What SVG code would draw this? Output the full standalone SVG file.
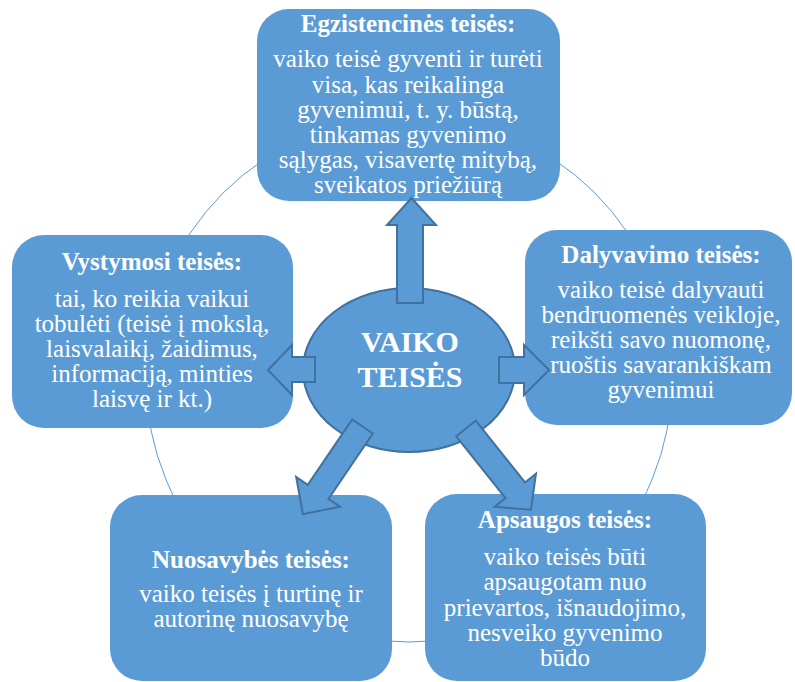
<svg xmlns="http://www.w3.org/2000/svg" width="795" height="682" viewBox="0 0 795 682">
<style>
.box{fill:#5B9BD5;}
.shape{fill:#5B9BD5;stroke:#41719C;stroke-width:2;stroke-linejoin:miter;}
.ring{fill:none;stroke:#5B9BD5;stroke-width:1;}
.txt text{fill:#FFFFFF;text-anchor:middle;}
.t{font-size:25px;font-weight:bold;}
.b{font-size:25px;}
.c{font-size:30px;font-weight:bold;}
</style>
<rect width="795" height="682" fill="#FFFFFF"/>
<circle class="ring" cx="409" cy="379" r="263"/>
<g class="txt" font-family="Liberation Serif, Times New Roman, serif">
<g id="node-top">
<rect class="box" x="257" y="9" width="303" height="192" rx="32" ry="32"/>
<text class="t" x="408" y="32">Egzistencinės teisės:</text>
<text class="b" x="408" y="67">vaiko teisė gyventi ir turėti</text>
<text class="b" x="408" y="93">visa, kas reikalinga</text>
<text class="b" x="408" y="118">gyvenimui, t. y. būstą,</text>
<text class="b" x="408" y="143">tinkamas gyvenimo</text>
<text class="b" x="408" y="168">sąlygas, visavertę mitybą,</text>
<text class="b" x="408" y="193">sveikatos priežiūrą</text>
</g>
<g id="node-left">
<rect class="box" x="12" y="235" width="281" height="193" rx="32" ry="32"/>
<text class="t" x="152" y="270">Vystymosi teisės:</text>
<text class="b" x="152" y="307">tai, ko reikia vaikui</text>
<text class="b" x="152" y="332">tobulėti (teisė į mokslą,</text>
<text class="b" x="152" y="357">laisvalaikį, žaidimus,</text>
<text class="b" x="152" y="382">informaciją, minties</text>
<text class="b" x="152" y="407">laisvę ir kt.)</text>
</g>
<g id="node-right">
<rect class="box" x="525" y="230" width="267" height="195" rx="32" ry="32"/>
<text class="t" x="661" y="263">Dalyvavimo teisės:</text>
<text class="b" x="661" y="298">vaiko teisė dalyvauti</text>
<text class="b" x="661" y="323">bendruomenės veikloje,</text>
<text class="b" x="661" y="348">reikšti savo nuomonę,</text>
<text class="b" x="661" y="373">ruoštis savarankiškam</text>
<text class="b" x="661" y="398">gyvenimui</text>
</g>
<g id="node-bottom-left">
<rect class="box" x="110" y="495" width="282" height="186" rx="32" ry="32"/>
<text class="t" x="251" y="568">Nuosavybės teisės:</text>
<text class="b" x="251" y="602">vaiko teisės į turtinę ir</text>
<text class="b" x="251" y="627">autorinę nuosavybę</text>
</g>
<g id="node-bottom-right">
<rect class="box" x="425" y="494" width="281" height="187" rx="32" ry="32"/>
<text class="t" x="565" y="528">Apsaugos teisės:</text>
<text class="b" x="565" y="565">vaiko teisės būti</text>
<text class="b" x="565" y="590">apsaugotam nuo</text>
<text class="b" x="565" y="616">prievartos, išnaudojimo,</text>
<text class="b" x="565" y="641">nesveiko gyvenimo</text>
<text class="b" x="565" y="666">būdo</text>
</g>
<g id="node-center">
<ellipse class="shape" cx="409" cy="370" rx="106" ry="82"/>
</g>
<g id="connectors">
<polygon class="shape" points="397,303 397,225 387,225 411.5,198 436,225 423,225 423,303"/>
<polygon class="shape" points="315,357 292,357 292,345 268,370 292,395 292,382 315,382"/>
<polygon class="shape" points="499,357 524,357 524,345 549,370 524,395 524,383 499,383"/>
<polygon class="shape" transform="translate(362.5,426.5) rotate(124.2)" points="0,-12.5 79,-12.5 79,-26.5 106,0 79,26.5 79,12.5 0,12.5"/>
<polygon class="shape" transform="translate(466,428.5) rotate(51.4)" points="0,-12.5 79,-12.5 79,-26.5 104,0 79,26.5 79,12.5 0,12.5"/>
</g>
<g id="center-label">
<text class="c" x="410" y="352">VAIKO</text>
<text class="c" x="410" y="387">TEISĖS</text>
</g>
</g>
</svg>
